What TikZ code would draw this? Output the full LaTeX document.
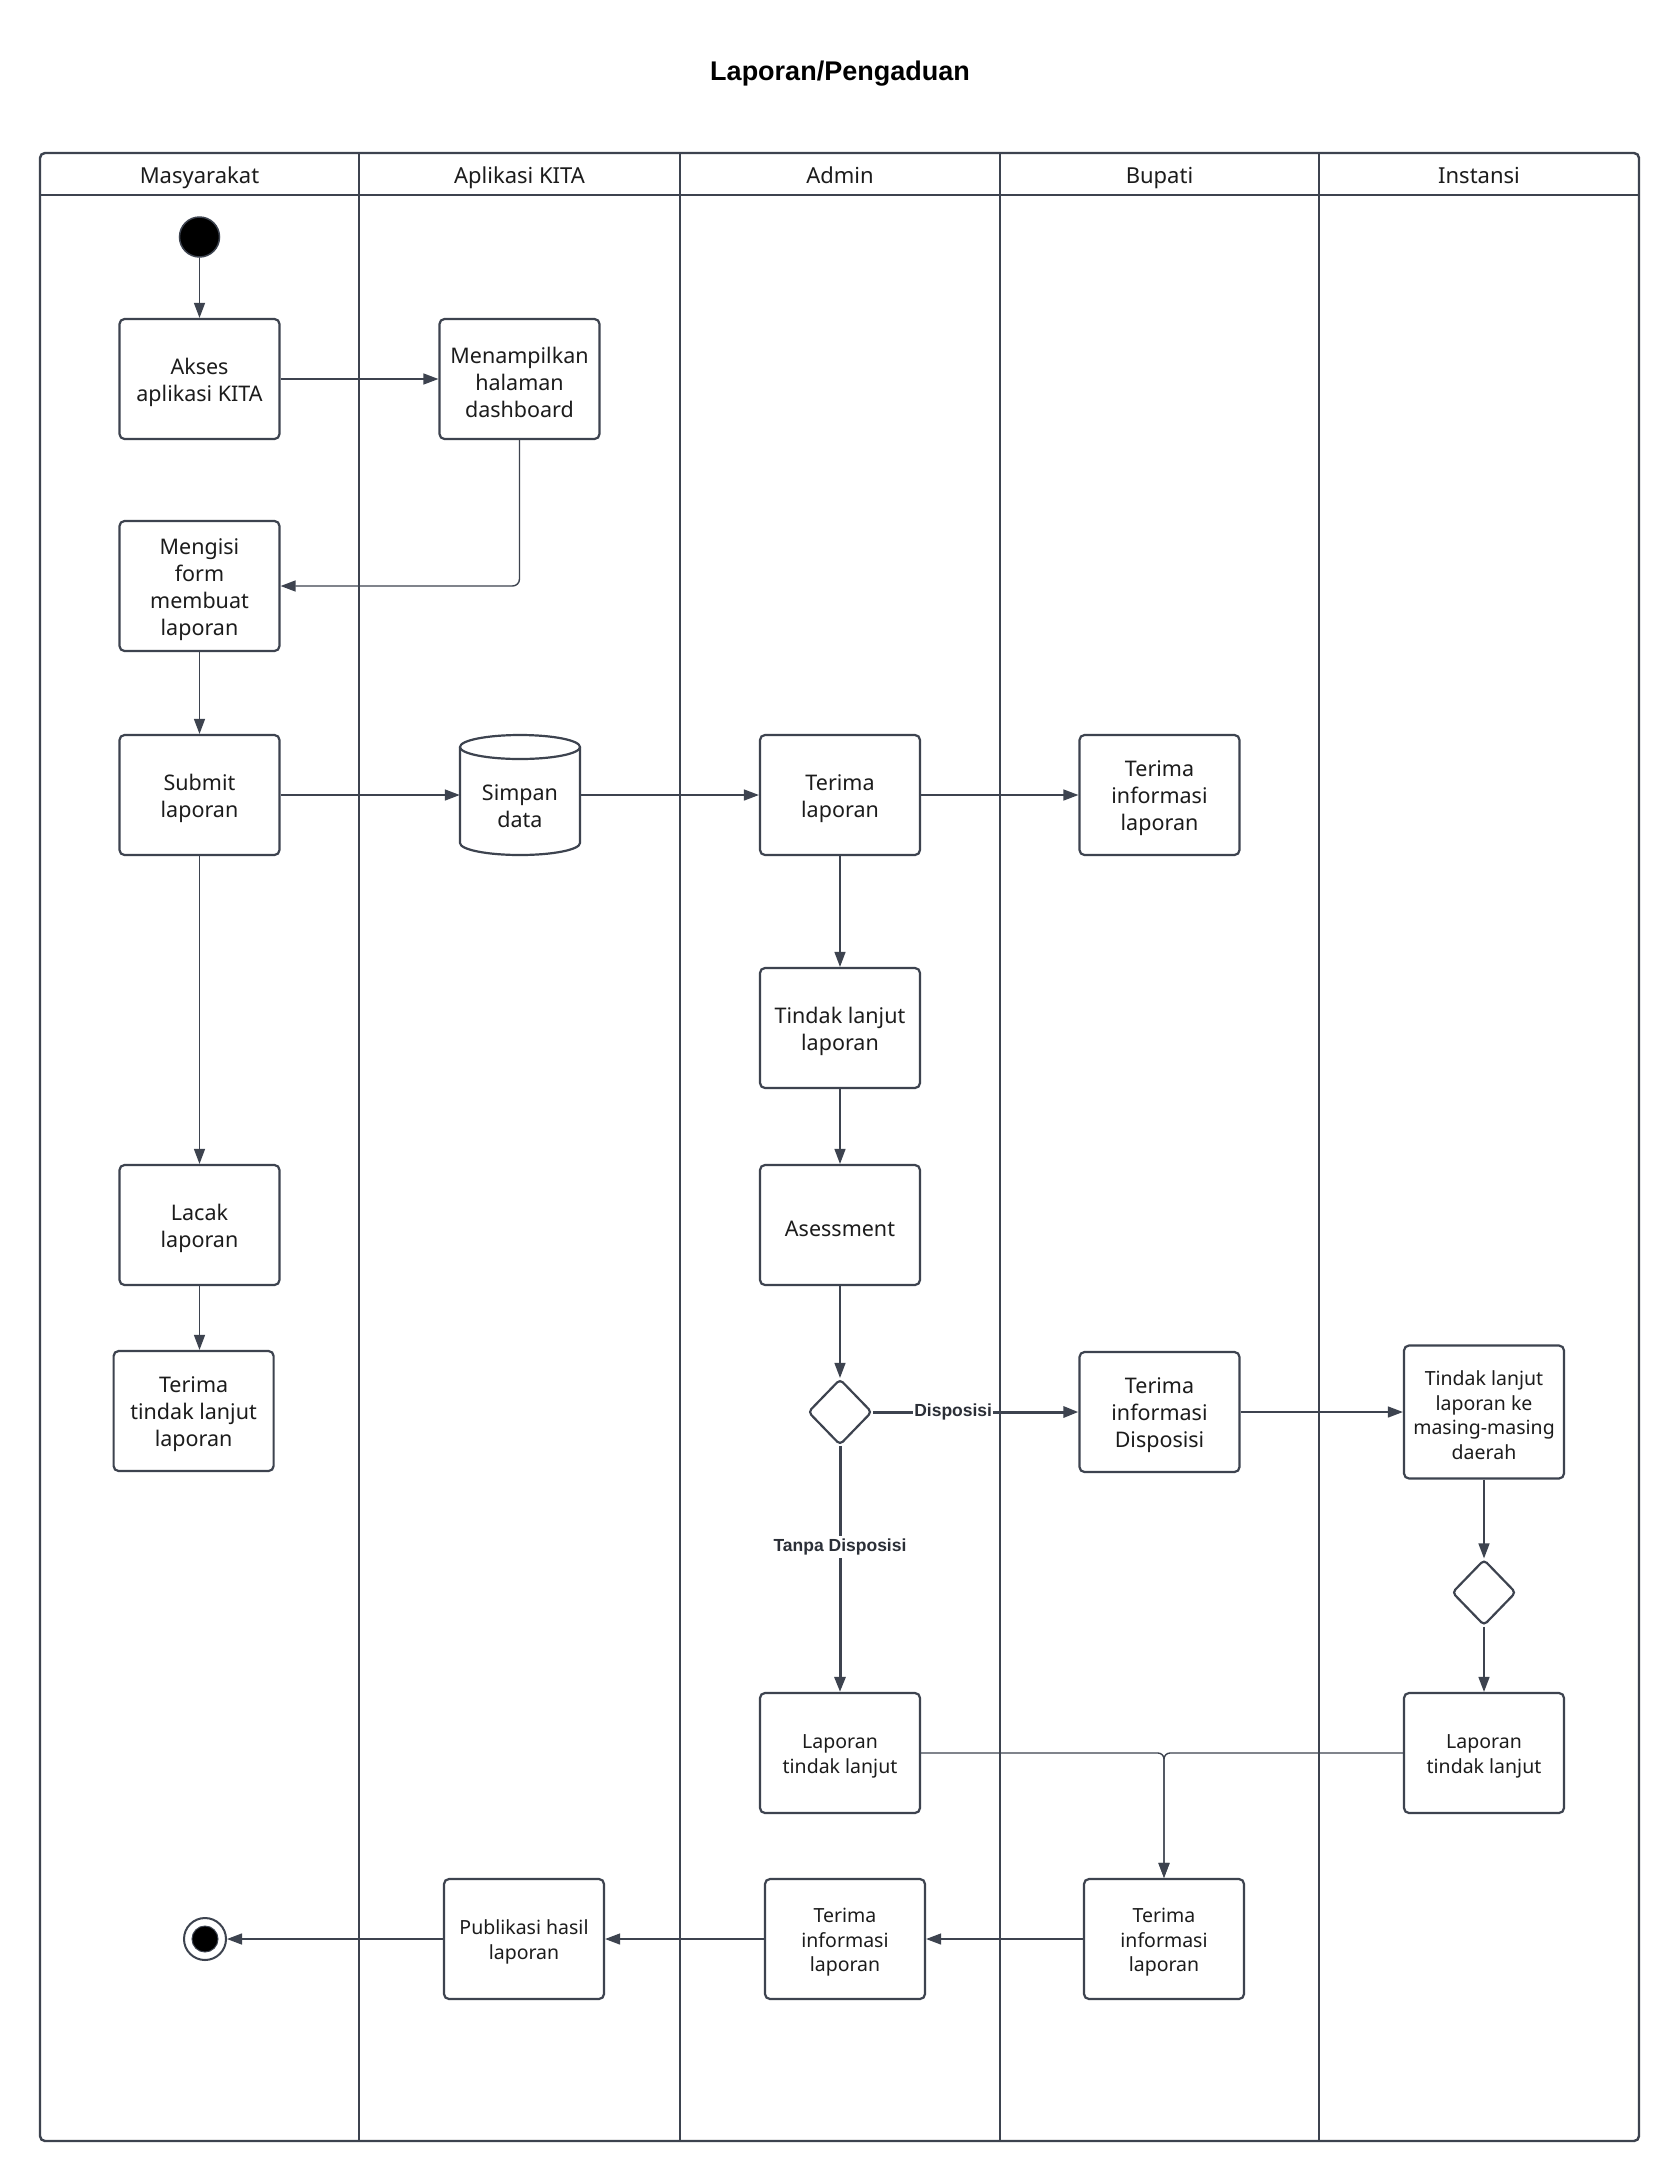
\documentclass[tikz,border=0pt]{standalone}
\usepackage{fontspec}
\setmainfont{Noto Sans}
\newfontfamily\labfont{Liberation Sans}
\usetikzlibrary{arrows.meta,shapes.geometric}
\definecolor{ln}{HTML}{3D434F}
\definecolor{tx}{HTML}{1C1C1C}
\newcommand\upr{\rule{0pt}{23pt}}
\newcommand\upsm{\rule{0pt}{21pt}}
\begin{document}
\begin{tikzpicture}[x=1pt,y=-1pt,
  box/.style={draw=ln, line width=2.2pt, rounded corners=5pt, minimum width=160pt, minimum height=120pt, align=center, text=tx, font=\fontsize{21.5}{27}\selectfont, inner sep=0pt, fill=white},
  sbox/.style={box, font=\fontsize{19.5}{24.5}\selectfont},
  conn/.style={draw=ln, line width=1.4pt, -{Triangle[length=15pt,width=11pt]}},
  tconn/.style={draw=ln, line width=3pt, -{Triangle[length=15pt,width=11pt]}},
  dec/.style={diamond, draw=ln, line width=2.2pt, minimum width=64pt, minimum height=66pt, rounded corners=4pt, inner sep=0pt, fill=white},
  lbl/.style={font=\labfont\bfseries\fontsize{17.5}{20}\selectfont, fill=white, text=ln!70!black, inner sep=1pt},
  lanehead/.style={font=\fontsize{22}{26}\selectfont, text=tx, text height=16pt, text depth=5pt, inner sep=0pt},
  frame/.style={draw=ln, line width=2.4pt}
]
\useasboundingbox (0,0) rectangle (1680,2182);
\fill[white] (0,0) rectangle (1680,2182);

% title
\node[font=\labfont\bfseries\fontsize{27}{32}\selectfont, text=black] (title) at (840,73.5) {Laporan/Pengaduan};

% swimlane frame
\draw[frame, rounded corners=5pt] (40,153) rectangle (1639,2141);
\draw[frame] (40,195) -- (1639,195);
\foreach \x in {359,680,1000,1319} \draw[frame] (\x,153) -- (\x,2141);
\node[lanehead] (hM) at (199.5,177.5) {Masyarakat};
\node[lanehead] (hA) at (519.5,177.5) {Aplikasi KITA};
\node[lanehead] (hAd) at (840,177.5) {Admin};
\node[lanehead] (hB) at (1159.5,177.5) {Bupati};
\node[lanehead] (hI) at (1479,177.5) {Instansi};

% nodes
\node[circle, fill=black, draw=ln, line width=1.5pt, minimum size=40pt, inner sep=0pt] (start) at (199.5,237) {};
\node[box] (akses) at (199.5,379) {\upr Akses\\aplikasi KITA};
\node[box] (menampilkan) at (519.5,379) {\upr Menampilkan\\halaman\\dashboard};
\node[box, minimum height=130pt] (mengisi) at (199.5,586) {\upr Mengisi\\form\\membuat\\laporan};
\node[box] (submit) at (199.5,795) {\upr Submit\\laporan};

% cylinder
\draw[ln, line width=2.2pt, fill=white] (460,747) -- (460,843) arc[start angle=180, end angle=0, x radius=60, y radius=12] -- (580,747);
\draw[ln, line width=2.2pt, fill=white] (520,747) ellipse [x radius=60, y radius=12];
\node[minimum width=120pt, minimum height=96pt, inner sep=0pt, align=center, text=tx, font=\fontsize{21.5}{27}\selectfont] (simpan) at (520,806.5) {Simpan\\data};

\node[box] (terima) at (840,795) {\upr Terima\\laporan};
\node[box] (terimainfo) at (1159.5,795) {\upr Terima\\informasi\\laporan};
\node[box] (tindak) at (840,1028) {\upr Tindak lanjut\\laporan};
\node[box] (asess) at (840,1225) {\upr Asessment};
\node[box] (lacak) at (199.5,1225) {\upr Lacak\\laporan};
\node[box] (terimatl) at (193.6,1411) {\upr Terima\\tindak lanjut\\laporan};
\node[dec] (dec1) at (840,1412) {};
\node[box] (dispo) at (1159.5,1412) {\upr Terima\\informasi\\Disposisi};
\node[sbox, minimum height=133pt] (daerah) at (1484,1412) {\upsm Tindak lanjut\\laporan ke\\masing-masing\\daerah};
\node[dec] (dec2) at (1484,1592.5) {};
\node[sbox] (ltli) at (1484,1753) {\upsm Laporan\\tindak lanjut};
\node[sbox] (ltla) at (840,1753) {\upsm Laporan\\tindak lanjut};
\node[sbox] (tibb) at (1164,1939) {\upsm Terima\\informasi\\laporan};
\node[sbox] (tiba) at (845,1939) {\upsm Terima\\informasi\\laporan};
\node[sbox] (pub) at (524,1939) {\upsm Publikasi hasil\\laporan};
\node[circle, draw=ln, line width=2pt, minimum size=42pt, inner sep=0pt, fill=white] (endc) at (205,1939) {};
\node[circle, fill=black, draw=ln, line width=1pt, minimum size=26pt, inner sep=0pt] (endin) at (205,1939) {};

% connectors
\draw[conn] (start.south) -- (akses.north);
\draw[conn] (akses.east) -- (menampilkan.west);
\draw[conn, rounded corners=7pt] (menampilkan.south) |- (mengisi.east);
\draw[conn] (mengisi.south) -- (submit.north);
\draw[conn] (submit.east) -- (submit.east -| simpan.west);
\draw[conn] (simpan.east |- terima.west) -- (terima.west);
\draw[conn] (terima.east) -- (terimainfo.west);
\draw[conn] (terima.south) -- (tindak.north);
\draw[conn] (tindak.south) -- (asess.north);
\draw[conn] (asess.south) -- (dec1.north);
\draw[tconn] (dec1.east) -- node[lbl, pos=0.39] (lblD) {Disposisi} (dispo.west);
\draw[tconn] (dec1.south) -- node[lbl, pos=0.41, inner sep=3pt] (lblT) {Tanpa Disposisi} (ltla.north);
\draw[conn] (dispo.east) -- (dispo.east -| daerah.west);
\draw[conn] (daerah.south) -- (dec2.north);
\draw[conn] (dec2.south) -- (ltli.north);
\draw[conn] (submit.south) -- (lacak.north);
\draw[conn] (lacak.south) -- (lacak.south |- terimatl.north);
\draw[conn, rounded corners=6pt] (ltla.east) -| (tibb.north);
\draw[conn, rounded corners=6pt] (ltli.west) -| (tibb.north);
\draw[conn] (tibb.west) -- (tiba.east);
\draw[conn] (tiba.west) -- (pub.east);
\draw[conn] (pub.west) -- (endc.east);
\end{tikzpicture}
\end{document}
